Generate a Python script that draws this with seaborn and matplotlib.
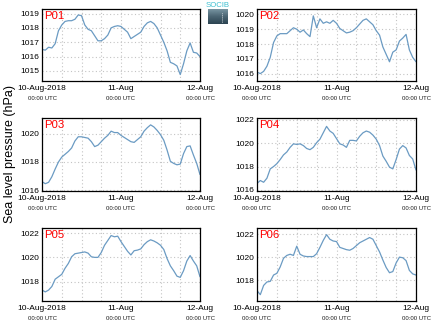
import numpy as np
import pandas as pd
import matplotlib
matplotlib.use("Agg")
import matplotlib.pyplot as plt
from matplotlib.colors import LinearSegmentedColormap
from matplotlib.ticker import FixedLocator, MultipleLocator, NullFormatter
import seaborn as sns

# Hourly sea level pressure (hPa) from 10-Aug-2018 00:00 UTC to 12-Aug-2018 00:00 UTC
hours = list(range(49))
stations = ["P01", "P02", "P03", "P04", "P05", "P06"]

p01 = [1016.5, 1016.45, 1016.65, 1016.6, 1016.9, 1017.8, 1018.2, 1018.45, 1018.5, 1018.5,
       1018.6, 1018.9, 1018.85, 1018.2, 1017.9, 1017.8, 1017.45, 1017.1, 1017.1, 1017.25,
       1017.5, 1018.0, 1018.1, 1018.15, 1018.1, 1017.9, 1017.7, 1017.25, 1017.4, 1017.55,
       1017.7, 1018.1, 1018.35, 1018.45, 1018.3, 1018.0, 1017.5, 1017.0, 1016.4, 1015.6,
       1015.5, 1015.35, 1014.75, 1015.5, 1016.4, 1016.95, 1016.3, 1016.25, 1016.0]
p02 = [1016.1, 1016.0, 1016.15, 1016.5, 1017.1, 1018.1, 1018.55, 1018.7, 1018.7, 1018.7,
       1018.9, 1019.1, 1019.0, 1018.8, 1018.95, 1018.7, 1018.5, 1019.9, 1019.1, 1019.7,
       1019.4, 1019.5, 1019.4, 1019.6, 1019.4, 1019.05, 1018.9, 1018.75, 1018.8, 1018.9,
       1019.1, 1019.35, 1019.6, 1019.7, 1019.5, 1019.3, 1018.9, 1018.6, 1017.8, 1017.3,
       1016.8, 1017.45, 1017.6, 1018.2, 1018.4, 1018.65, 1017.6, 1017.1, 1016.8]
p03 = [1016.6, 1016.45, 1016.55, 1016.95, 1017.5, 1018.0, 1018.35, 1018.55, 1018.75, 1019.0,
       1019.5, 1019.8, 1019.8, 1019.75, 1019.7, 1019.45, 1019.1, 1019.2, 1019.45, 1019.7,
       1019.9, 1020.2, 1020.1, 1020.1, 1019.9, 1019.75, 1019.6, 1019.45, 1019.4, 1019.6,
       1019.8, 1020.2, 1020.45, 1020.65, 1020.5, 1020.25, 1019.95, 1019.55, 1018.85, 1018.05,
       1017.9, 1017.8, 1017.85, 1018.6, 1019.1, 1019.15, 1018.5, 1017.9, 1017.1]
p04 = [1016.55, 1016.8, 1016.65, 1017.0, 1017.8, 1018.0, 1018.25, 1018.6, 1019.0, 1019.25,
       1019.65, 1019.95, 1019.9, 1019.95, 1019.8, 1019.55, 1019.45, 1019.65, 1020.05, 1020.35,
       1020.9, 1021.45, 1021.05, 1020.85, 1020.4, 1019.95, 1019.85, 1019.65, 1020.25, 1020.25,
       1020.2, 1020.6, 1020.9, 1021.05, 1020.95, 1020.7, 1020.35, 1019.8, 1018.9, 1018.45,
       1017.95, 1017.8, 1018.6, 1019.5, 1019.8, 1019.6, 1018.95, 1018.65, 1017.7]
p05 = [1017.3, 1017.15, 1017.3, 1017.6, 1018.2, 1018.4, 1018.6, 1019.1, 1019.5, 1020.05,
       1020.3, 1020.35, 1020.4, 1020.45, 1020.35, 1020.05, 1020.0, 1020.0, 1020.4, 1021.0,
       1021.4, 1021.8, 1021.7, 1021.75, 1021.3, 1020.9, 1020.5, 1020.2, 1020.55, 1020.6,
       1020.7, 1021.05, 1021.3, 1021.45, 1021.35, 1021.2, 1021.0, 1020.65, 1019.9, 1019.3,
       1018.9, 1018.45, 1018.35, 1018.9, 1019.7, 1020.15, 1019.7, 1019.3, 1018.4]
p06 = [1017.1, 1016.75, 1017.55, 1017.85, 1017.9, 1018.45, 1018.6, 1019.15, 1019.9, 1020.15,
       1020.25, 1020.15, 1020.95, 1020.25, 1020.1, 1020.05, 1020.05, 1020.05, 1020.3, 1020.85,
       1021.45, 1021.95, 1021.55, 1021.4, 1021.35, 1020.85, 1020.75, 1020.65, 1020.6, 1020.75,
       1021.0, 1021.25, 1021.4, 1021.55, 1021.7, 1021.55, 1021.0, 1020.45, 1019.75, 1019.1,
       1018.65, 1018.75, 1019.5, 1020.0, 1019.95, 1019.7, 1018.85, 1018.55, 1018.45]

tick_hours = [0, 24, 48]
tick_dates = ["10-Aug-2018", "11-Aug", "12-Aug"]
tick_time = "00:00 UTC"

series = dict(zip(stations, [p01, p02, p03, p04, p05, p06]))
df = pd.concat(
    [pd.DataFrame({"station": s, "hour": hours, "pressure": v}) for s, v in series.items()],
    ignore_index=True,
)

# Axis ranges and tick spacing per panel
ylims = {"P01": (1014.3, 1019.35), "P02": (1015.5, 1020.4), "P03": (1015.93, 1021.14),
         "P04": (1015.9, 1022.17), "P05": (1016.4, 1022.4), "P06": (1016.2, 1022.5)}
ysteps = {"P01": 1, "P02": 1, "P03": 2, "P04": 2, "P05": 2, "P06": 2}

sns.set_style("white")
plt.rcParams["font.family"] = ["Liberation Sans", "DejaVu Sans"]

W, H = 434, 327
fig = plt.figure(figsize=(W / 100, H / 100), dpi=100)

col_left = [42, 257]
col_right = [200, 416]
row_top = [8.5, 118, 228.3]
row_bottom = [81, 191, 301]

line_color = "#6b9bc3"
grid_kw = dict(color="#c4c4c4", linestyle=(0, (1, 2.2)), linewidth=0.8)

for i, st in enumerate(stations):
    r, c = divmod(i, 2)
    x0, x1 = col_left[c], col_right[c]
    y0, y1 = row_top[r], row_bottom[r]
    ax = fig.add_axes([x0 / W, 1 - y1 / H, (x1 - x0) / W, (y1 - y0) / H])
    sub = df[df["station"] == st]
    sns.lineplot(data=sub, x="hour", y="pressure", ax=ax, color=line_color, linewidth=0.9)
    ax.set_xlim(0, 48)
    ax.set_ylim(*ylims[st])
    ax.xaxis.set_major_locator(FixedLocator(tick_hours))
    ax.xaxis.set_minor_locator(MultipleLocator(6))
    ax.xaxis.set_minor_formatter(NullFormatter())
    ax.set_xticklabels(tick_dates)
    ax.yaxis.set_major_locator(MultipleLocator(ysteps[st]))
    ax.yaxis.set_major_formatter(matplotlib.ticker.FormatStrFormatter("%d"))
    ax.tick_params(axis="both", which="both", length=0, labelsize=6, colors="black")
    ax.tick_params(axis="x", pad=3.2)
    ax.tick_params(axis="y", pad=1.8)
    ax.grid(True, which="both", axis="x", **grid_kw)
    ax.grid(True, which="major", axis="y", **grid_kw)
    ax.set_xlabel("")
    ax.set_ylabel("")
    for sp in ax.spines.values():
        sp.set_color("black")
        sp.set_linewidth(0.9)
    for h in tick_hours:
        ax.annotate(tick_time, xy=(h, 0), xycoords=("data", "axes fraction"),
                    xytext=(0, -12.7), textcoords="offset points",
                    ha="center", va="center", fontsize=4.3, color="#1a1a1a",
                    annotation_clip=False)
    ax.text(0.012, 0.97, st, transform=ax.transAxes, ha="left", va="top",
            fontsize=8.2, color="#ff0000")

fig.text(10 / W, 1 - 154 / H, "Sea level pressure (hPa)", rotation=90,
         ha="center", va="center", fontsize=9, color="black")

# SOCIB logo
logo_ax = fig.add_axes([208 / W, 1 - 24.3 / H, 20 / W, 15.3 / H])
logo_cmap = LinearSegmentedColormap.from_list("logo", ["#7d9aa7", "#4d6775", "#2c4452"])
logo_ax.imshow(np.linspace(0, 1, 32).reshape(-1, 1), cmap=logo_cmap, aspect="auto",
               extent=(0, 1, 0, 1))
logo_ax.plot([0.72, 0.72], [0.15, 0.75], color="white", linestyle=(0, (1, 1.5)), linewidth=0.6)
logo_ax.set_xlim(0, 1)
logo_ax.set_ylim(0, 1)
logo_ax.axis("off")
fig.text(218 / W, 1 - 5.6 / H, "SOCIB", ha="center", va="center", fontsize=5.6,
         color="#3dbfd0")

fig.savefig("out.png", dpi=100)
